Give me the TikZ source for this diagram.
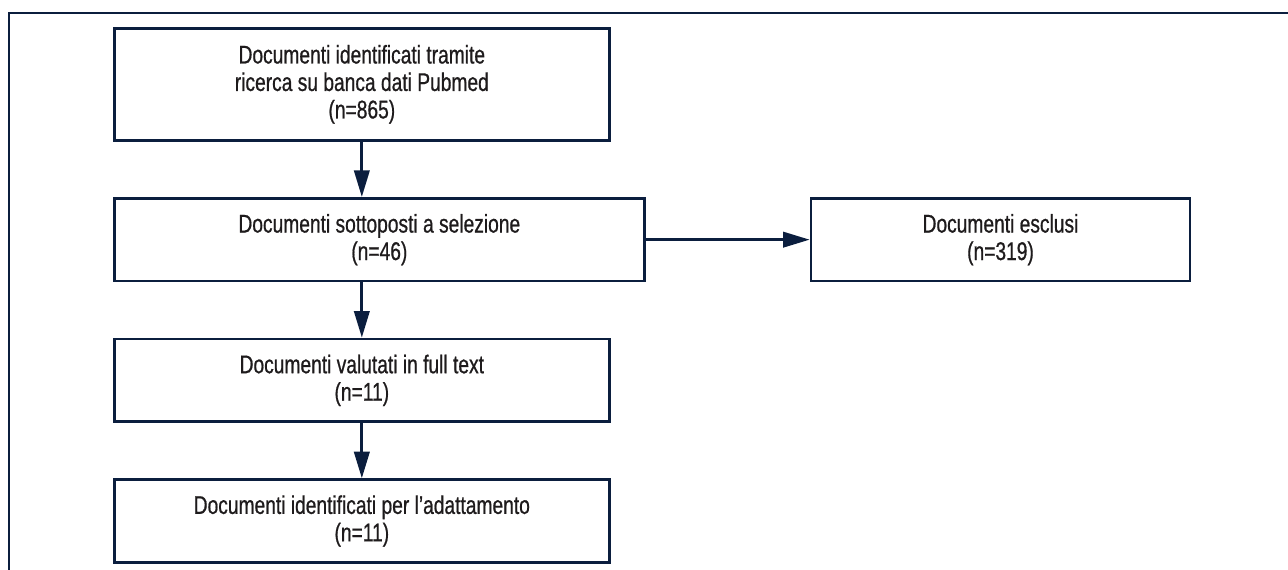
\documentclass[tikz,border=0pt]{standalone}
\usepackage{fontspec}
\setmainfont{Liberation Sans}[FakeStretch=0.75, FakeBold=0.7]
\usepackage{xcolor}
\usepackage{tikz}
\usetikzlibrary{arrows.meta,positioning}

\definecolor{navy}{HTML}{0B1E3E}
\definecolor{ink}{HTML}{1E1B1C}

\begin{document}
\begin{tikzpicture}[x=0.75pt, y=-0.75pt, >={Triangle[length=20pt,width=11.5pt]},
  node distance=41.5pt,
  box/.style={draw=navy, line width=2pt, align=center, inner sep=2mm, text=ink,
    font=\fontsize{19.2}{20.6}\selectfont, minimum width=371.25pt, minimum height=62pt},
  arr/.style={->, draw=navy, line width=2.2pt}]
\useasboundingbox (0,0) rectangle (1288,570);
% frame
\draw[navy, line width=2.2pt] (9,570) -- (9,13) -- (1288,13);
\node[box, minimum height=84pt, anchor=north west] (ident) at (113,27) {Documenti identificati tramite \\ ricerca su banca dati Pubmed \\ (n=865)};
\node[box, below=of ident.south west, anchor=north west, minimum width=397.5pt] (sel) {Documenti sottoposti a selezione \\ (n=46)};
\node[box, right=123pt of sel, minimum width=284.25pt] (escl) {Documenti esclusi \\ (n=319)};
\node[box, below=of sel.south west, anchor=north west] (full) {Documenti valutati in full text \\ (n=11)};
\node[box, below=of full] (adatt) {Documenti identificati per l'adattamento \\ (n=11)};
\draw[arr] (ident.south) -- (ident.south |- sel.north);
\draw[arr] (sel) -- (escl);
\draw[arr] (sel.south -| full.north) -- (full.north);
\draw[arr] (full) -- (adatt);
\end{tikzpicture}
\end{document}
